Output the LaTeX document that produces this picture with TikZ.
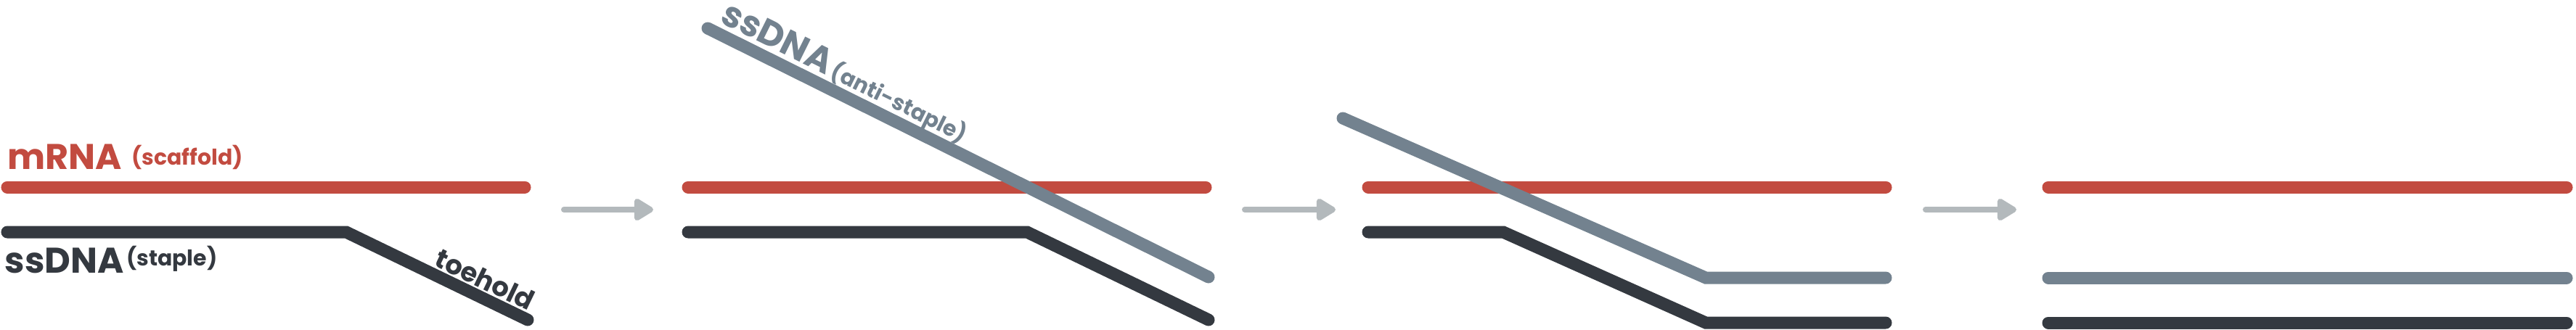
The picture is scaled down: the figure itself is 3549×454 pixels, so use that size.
\documentclass[tikz,border=0pt]{standalone}
\usepackage{fontspec}
\setmainfont{Poppins}
\usetikzlibrary{arrows.meta}
\definecolor{rnacol}{RGB}{194,75,64}
\definecolor{staplecol}{RGB}{52,57,64}
\definecolor{anticol}{RGB}{115,130,143}
\definecolor{arrcol}{RGB}{179,185,188}
\tikzset{
  strand/.style={line width=0.17cm, line cap=round, line join=miter},
  rna/.style={strand, draw=rnacol},
  staple/.style={strand, draw=staplecol},
  anti/.style={strand, draw=anticol},
  steparrow/.style={draw=arrcol, line width=0.08cm, line cap=round,
    -{Triangle[length=0.30cm,width=0.34cm,round=false]}},
  biglabel/.style={inner sep=0pt, anchor=base west, font=\fontsize{14}{16}\selectfont\bfseries},
  smalllabel/.style={inner sep=0pt, anchor=base west, font=\fontsize{8.5}{10}\selectfont\bfseries},
}
\begin{document}
\begin{tikzpicture}[x=0.01cm, y=-0.01cm]
\useasboundingbox (0,0) rectangle (3549,454);
% ---------- panel 1 ----------
\coordinate (r1a) at (10,258);   \coordinate (r1b) at (723,258);
\coordinate (s1a) at (10,320);   \coordinate (s1k) at (477,320); \coordinate (s1b) at (727,441);
\draw[rna] (r1a) -- (r1b);
\draw[staple] (s1a) -- (s1k) -- (s1b);
\node[biglabel, text=rnacol] (mrna) at (10,233) {mRNA};
\node[smalllabel, text=rnacol, anchor=base west] (scaf) at ([xshift=0.12cm]mrna.base east) {\raisebox{0.06cm}{(scaffold)}};
\node[biglabel, text=staplecol] (ssdna) at (6,376) {ssDNA};
\node[smalllabel, text=staplecol, anchor=base west] (stap) at ([xshift=0.02cm]ssdna.base east) {\raisebox{0.10cm}{(staple)}};
\node[inner sep=0pt, rotate=-25.8, text=staplecol, font=\fontsize{10.5}{12}\selectfont\bfseries] (toe) at (668,385) {toehold};
% ---------- panel 2 ----------
\coordinate (r2a) at (948,258);  \coordinate (r2b) at (1661,258);
\coordinate (s2a) at (948,320);  \coordinate (s2k) at (1415,320); \coordinate (s2b) at (1665,441);
\coordinate (g2a) at (975,39);   \coordinate (g2b) at (1665,382);
\draw[rna] (r2a) -- (r2b);
\draw[staple] (s2a) -- (s2k) -- (s2b);
\draw[anti] (g2a) -- (g2b);
\node[inner sep=0pt, anchor=base west, rotate=-26.4, text=anticol] (anti) at (990,30)
  {\fontsize{14}{16}\selectfont\bfseries ssDNA\kern0.06cm\fontsize{8.5}{10}\selectfont(anti-staple)};
% ---------- panel 3 ----------
\coordinate (r3a) at (1885,258); \coordinate (r3b) at (2598,258);
\coordinate (s3a) at (1885,320); \coordinate (s3k) at (2071,320); \coordinate (s3m) at (2350,445); \coordinate (s3b) at (2598,445);
\coordinate (g3a) at (1850,163); \coordinate (g3m) at (2350,383); \coordinate (g3b) at (2598,383);
\draw[rna] (r3a) -- (r3b);
\draw[staple] (s3a) -- (s3k) -- (s3m) -- (s3b);
\draw[anti] (g3a) -- (g3m) -- (g3b);
% ---------- panel 4 ----------
\coordinate (r4a) at (2822,258); \coordinate (r4b) at (3536,258);
\coordinate (g4a) at (2822,383); \coordinate (g4b) at (3536,383);
\coordinate (s4a) at (2822,445); \coordinate (s4b) at (3536,445);
\draw[rna] (r4a) -- (r4b);
\draw[anti] (g4a) -- (g4b);
\draw[staple] (s4a) -- (s4b);
% ---------- arrows ----------
\coordinate (a1a) at (777,289);  \coordinate (a1b) at (900,289);
\coordinate (a2a) at (1715,289); \coordinate (a2b) at (1840,289);
\coordinate (a3a) at (2653,289); \coordinate (a3b) at (2778,289);
\draw[steparrow] (a1a) -- (a1b);
\draw[steparrow] (a2a) -- (a2b);
\draw[steparrow] (a3a) -- (a3b);
\end{tikzpicture}
\end{document}
